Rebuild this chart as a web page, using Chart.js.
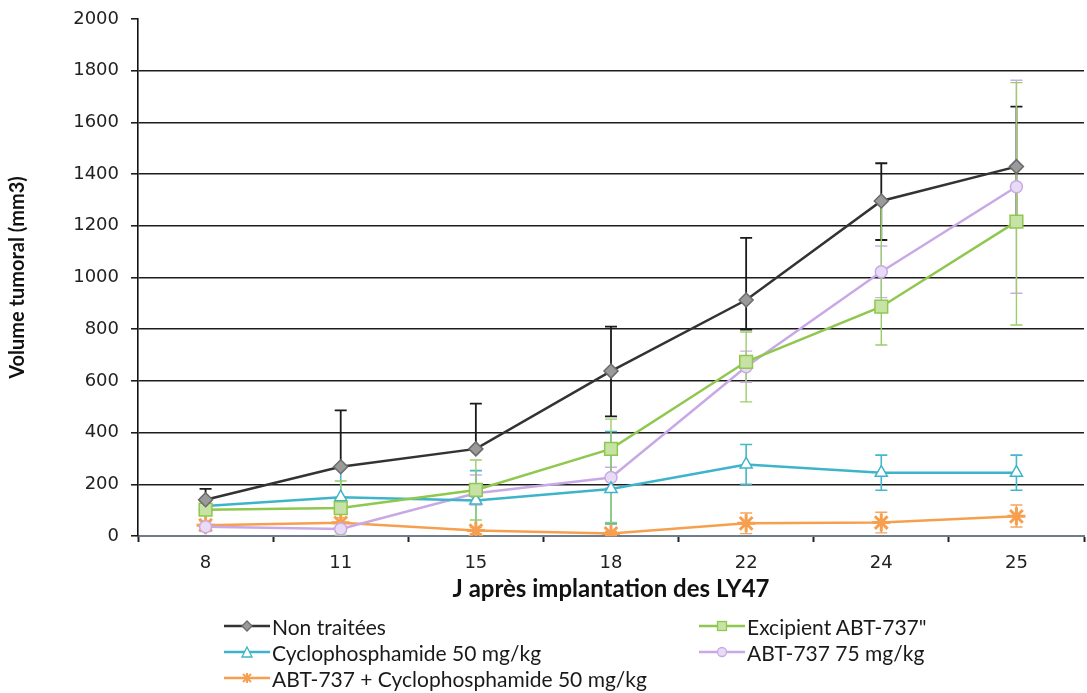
<!DOCTYPE html>
<html>
<head>
<meta charset="utf-8">
<script src="https://cdn.jsdelivr.net/npm/chart.js@4.4.1/dist/chart.umd.min.js"></script>
<style>
  body { margin: 0; background: #fff; overflow: hidden; width: 1087px; height: 693px; }
  #wrap { position: relative; width: 1096px; height: 693px; }
  .item { position: absolute; display: flex; align-items: center; white-space: nowrap;
          font-family: Lato, sans-serif; font-size: 21px; color: #1a1a1a; height: 24px; }
  .item svg { margin-right: 2px; }
</style>
</head>
<body>
<div id="wrap">
  <canvas id="tumorChart" width="1096" height="693"></canvas>
  <div id="legend"></div>
</div>
<script>
// days after implantation (x categories)
var days = ['8', '11', '15', '18', '22', '24', '25'];

// mean tumour volume (mm3) and error bars
var nonTraitees        = [140, 268, 337, 638, 913, 1296, 1429];
var nonTraiteesErrUp   = [42, 218, 175, 172, 240, 146, 232];
var nonTraiteesErrDown = [0, 0, 0, 175, 115, 151, 232];

var excipient        = [102, 108, 178, 337, 674, 887, 1216];
var excipientErrUp   = [20, 105, 116, 115, 115, 405, 538];
var excipientErrDown = [20, 105, 116, 285, 155, 148, 400];

var cyclo        = [116, 150, 137, 182, 277, 245, 245];
var cycloErrUp   = [20, 117, 116, 222, 77, 68, 68];
var cycloErrDown = [20, 0, 116, 135, 77, 68, 68];

var abt75        = [36, 27, 165, 226, 655, 1022, 1351];
var abt75ErrUp   = [10, 10, 71, 40, 60, 100, 412];
var abt75ErrDown = [10, 10, 45, 40, 60, 100, 412];

var combo        = [42, 51, 21, 10, 49, 52, 76];
var comboErrUp   = [15, 20, 12, 8, 40, 40, 44];
var comboErrDown = [15, 20, 12, 8, 40, 40, 41];

var yTicks = { min: 0, max: 2000, step: 200 };

// draws error bars through the y scale, under the lines
var errorBars = {
  id: 'errorBars',
  beforeDatasetsDraw: function(chart) {
    var ctx = chart.ctx;
    var y = chart.scales.y;
    var order = [0, 3, 2, 1, 4];
    order.forEach(function(i) {
      var ds = chart.data.datasets[i];
      var meta = chart.getDatasetMeta(i);
      ctx.save();
      ctx.strokeStyle = ds.errColor;
      ctx.lineWidth = ds.errWidth;
      meta.data.forEach(function(pt, j) {
        var v = ds.data[j];
        var up = ds.errUp[j], lo = ds.errDown[j];
        if (!up && !lo) return;
        var yt = y.getPixelForValue(v + up);
        var yb = y.getPixelForValue(Math.max(0, v - lo));
        ctx.beginPath();
        ctx.moveTo(pt.x, yt);
        ctx.lineTo(pt.x, yb);
        if (up) { ctx.moveTo(pt.x - 6, yt); ctx.lineTo(pt.x + 6, yt); }
        if (lo) { ctx.moveTo(pt.x - 6, yb); ctx.lineTo(pt.x + 6, yb); }
        ctx.stroke();
      });
      ctx.restore();
    });
  }
};

var ctx = document.getElementById('tumorChart').getContext('2d');
var chart = new Chart(ctx, {
  type: 'line',
  data: {
    labels: days,
    datasets: [{
      label: 'Non traitées',
      data: nonTraitees, errUp: nonTraiteesErrUp, errDown: nonTraiteesErrDown,
      errColor: '#1a1a1a', errWidth: 1.8,
      borderColor: '#333333', borderWidth: 2.5,
      pointStyle: 'rectRot', pointRadius: 7,
      pointBackgroundColor: '#9a9a9a', pointBorderColor: '#6a6a6a', pointBorderWidth: 1.5
    }, {
      label: 'Excipient ABT-737"',
      data: excipient, errUp: excipientErrUp, errDown: excipientErrDown,
      errColor: '#9dcc6b', errWidth: 1.4,
      borderColor: '#8fc74f', borderWidth: 2.5,
      pointStyle: 'rect', pointRadius: 9,
      pointBackgroundColor: '#c6e2a4', pointBorderColor: '#8fc74f', pointBorderWidth: 1.5
    }, {
      label: 'Cyclophosphamide 50 mg/kg',
      data: cyclo, errUp: cycloErrUp, errDown: cycloErrDown,
      errColor: '#45b6cb', errWidth: 1.6,
      borderColor: '#3db4c9', borderWidth: 2.5,
      pointStyle: 'triangle', pointRadius: 7,
      pointBackgroundColor: '#ffffff', pointBorderColor: '#3db4c9', pointBorderWidth: 1.5
    }, {
      label: 'ABT-737 75 mg/kg',
      data: abt75, errUp: abt75ErrUp, errDown: abt75ErrDown,
      errColor: '#c9aee6', errWidth: 1.4,
      borderColor: '#c8a9e6', borderWidth: 2.5,
      pointStyle: 'circle', pointRadius: 6,
      pointBackgroundColor: '#e8dbf5', pointBorderColor: '#c8a9e6', pointBorderWidth: 1.5
    }, {
      label: 'ABT-737 + Cyclophosphamide 50 mg/kg',
      data: combo, errUp: comboErrUp, errDown: comboErrDown,
      errColor: '#f5a561', errWidth: 1.4,
      borderColor: '#f6a04f', borderWidth: 2.5,
      pointStyle: 'star', pointRadius: 9,
      pointBackgroundColor: '#f6a04f', pointBorderColor: '#f6a04f', pointBorderWidth: 3
    }]
  },
  options: {
    responsive: false,
    animation: false,
    layout: { padding: { top: 19, right: 0, bottom: 87, left: 0 } },
    plugins: { legend: { display: false }, tooltip: { enabled: false } },
    scales: {
      x: {
        offset: true,
        grid: { offset: true, drawOnChartArea: false, drawTicks: true, tickLength: 6, tickColor: '#222', tickWidth: 2 },
        border: { color: '#6f7c8a', width: 2 },
        ticks: { font: { family: 'DejaVu Sans', size: 18 }, color: '#222', padding: 11 },
        title: { display: true, text: 'J après implantation des LY47',
                 font: { family: 'Lato', weight: 'bold', size: 24 }, color: '#111', padding: { top: 2, bottom: 2 } },
        afterFit: function(s) { s.height = 70; }
      },
      y: {
        min: yTicks.min, max: yTicks.max,
        ticks: { stepSize: yTicks.step, font: { family: 'DejaVu Sans', size: 18 }, color: '#222', padding: 12,
                 callback: function(v) { return String(v); } },
        grid: {
          color: function(c) { return (c.tick.value === 0 || c.tick.value === 2000) ? 'rgba(0,0,0,0)' : '#1c1c1c'; },
          lineWidth: 1.6, tickColor: '#111', tickLength: 7, tickWidth: 1.5
        },
        border: { color: '#111', width: 1.6 },
        title: { display: true, text: 'Volume tumoral (mm3)',
                 font: { family: 'Lato', weight: 'bold', size: 20 }, color: '#111', padding: { top: 6, bottom: 4 } },
        afterFit: function(s) { s.width = 138; s.paddingTop = 0; s.paddingBottom = 0; }
      }
    }
  },
  plugins: [errorBars]
});

// html legend in two columns like the original
function marker(ds) {
  var f = ds.pointBackgroundColor, s = ds.pointBorderColor;
  switch (ds.pointStyle) {
    case 'rectRot': return '<polygon points="23,5 28,10 23,15 18,10" fill="' + f + '" stroke="' + s + '" stroke-width="1.3"/>';
    case 'rect': return '<rect x="18.5" y="5.5" width="9" height="9" fill="' + f + '" stroke="' + s + '" stroke-width="1.3"/>';
    case 'triangle': return '<polygon points="23,5 28,15 18,15" fill="' + f + '" stroke="' + s + '" stroke-width="1.3"/>';
    case 'circle': return '<circle cx="23" cy="10" r="4.5" fill="' + f + '" stroke="' + s + '" stroke-width="1.3"/>';
    default: return '<path d="M19,6 L27,14 M27,6 L19,14 M23,5 L23,15" stroke="' + s + '" stroke-width="2"/>';
  }
}
var legendPos = [[224, 614], [699, 614], [224, 640], [699, 640], [224, 666]];
var legend = document.getElementById('legend');
chart.data.datasets.forEach(function(ds, i) {
  var d = document.createElement('div');
  d.className = 'item';
  d.style.left = legendPos[i][0] + 'px';
  d.style.top = legendPos[i][1] + 'px';
  d.innerHTML = '<svg width="46" height="20"><line x1="0" y1="10" x2="46" y2="10" stroke="' + ds.borderColor +
    '" stroke-width="2.5"/>' + marker(ds) + '</svg><span>' + ds.label + '</span>';
  legend.appendChild(d);
});
</script>
</body>
</html>
